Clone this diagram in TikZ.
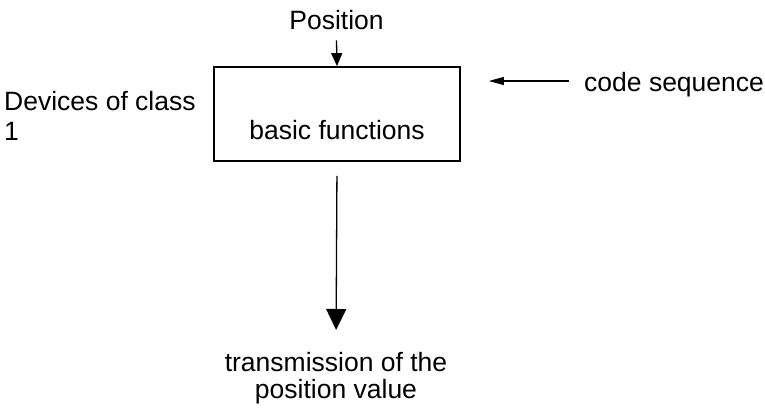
\documentclass[tikz,border=0pt]{standalone}
\usepackage{fontspec}
\setmainfont{Liberation Sans}
\usetikzlibrary{arrows.meta}
\begin{document}
\begin{tikzpicture}[x=1pt,y=1pt,
  txt/.style={inner sep=0pt,font=\fontsize{26.5}{30}\selectfont},
  boxst/.style={draw,line width=1.8pt,inner sep=0pt,minimum width=246pt,minimum height=94pt,
    text height=55pt,text depth=5pt,font=\fontsize{26.5}{30}\selectfont},
  smallarr/.style={line width=1.3pt,-{Triangle[length=13pt,width=11pt]}},
  narrowarr/.style={line width=1.3pt,-{Triangle[length=15pt,width=8pt]}},
  bigarr/.style={line width=1.3pt,-{Triangle[length=21pt,width=20pt]}}]
\useasboundingbox (0,0) rectangle (765,-412);
\node[boxst] (box) at (337,-114) {basic functions};
\node[txt,anchor=base,inner ysep=10pt] (pos) at (336.5,-30) {Position};
\node[txt,anchor=north west,align=left] (dev) at (4,-91) {Devices of class\\1};
\node[txt,anchor=base west] (code) at (584,-92) {code sequence};
\node[txt,anchor=north,align=center,font=\fontsize{26.5}{27.5}\selectfont] (trans) at (336,-352) {transmission of the\\position value};
\coordinate (cstart) at (569,-81);
\draw[smallarr] (pos.south) -- (box.north);
\draw[narrowarr,shorten >=28pt] (cstart) -- (cstart -| box.east);
\draw[bigarr,shorten <=14pt,shorten >=22pt] (box.south) -- (trans.north);
\end{tikzpicture}
\end{document}
